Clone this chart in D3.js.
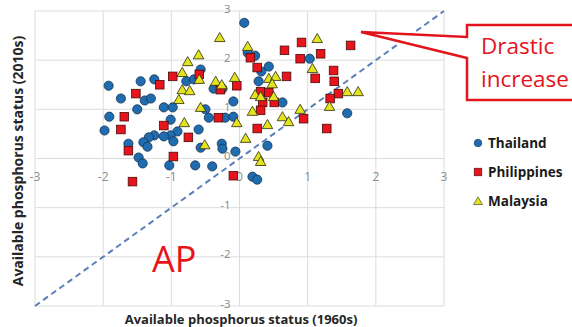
<!DOCTYPE html>
<html>
<head>
<meta charset="utf-8">
<script src="https://cdn.jsdelivr.net/npm/d3@7"></script>
<style>
  body { margin: 0; background: #fff; }
  svg { display: block; }
  text { font-family: "Open Sans", sans-serif; }
</style>
</head>
<body>
<svg id="chart" width="572" height="327"></svg>
<script>
// [1960s, 2010s] available phosphorus status per site
const thailand = [
  [-1.92, 1.48], [-1.45, 1.57], [-1.25, 1.61], [-1.74, 1.22], [-1.39, 1.18],
  [-1.30, 1.22], [-1.50, 1.00], [-1.11, 1.04], [-0.98, 1.04], [-1.91, 0.85],
  [-1.98, 0.57], [-1.01, 0.79], [-0.91, 0.55], [-1.01, 0.47], [-1.11, 0.45],
  [-1.25, 0.47], [-1.33, 0.43], [-1.41, 0.33], [-1.35, 0.24], [-0.97, 0.35],
  [-0.60, 0.59], [-1.63, 0.30], [-1.48, 0.02], [-1.42, -0.10], [-1.03, -0.14],
  [-0.65, -0.14], [-0.40, -0.16], [-0.78, 1.57], [-0.67, 1.61], [-0.57, 1.81],
  [0.07, 2.76], [0.12, 2.15], [0.23, 2.09], [1.03, 2.03], [0.32, 1.77],
  [0.43, 1.87], [0.28, 1.57], [-0.38, 1.42], [-0.25, 1.42], [-0.09, 1.16],
  [0.63, 1.14], [1.58, 0.92], [-0.50, 1.00], [-0.45, 0.83], [-0.21, 0.83],
  [-0.09, 0.85], [-0.26, 0.30], [-0.25, 0.20], [0.41, 0.26], [-0.06, 0.14],
  [-0.57, 0.22], [0.19, -0.37], [0.26, -0.43]
];
const philippines = [
  [-1.52, 1.32], [-1.17, 1.50], [-0.98, 1.67], [-1.69, 0.85], [-1.74, 0.59],
  [-1.11, 0.67], [-0.75, 0.43], [-1.63, 0.16], [-0.97, 0.04], [-1.57, -0.47],
  [-0.59, 1.71], [0.16, 2.05], [0.66, 2.20], [0.91, 2.36], [0.89, 2.03],
  [1.19, 2.13], [1.63, 2.30], [0.26, 1.85], [1.38, 1.79], [1.11, 1.63],
  [1.39, 1.57], [0.69, 1.67], [-0.04, 1.48], [-0.28, 1.40], [0.31, 1.36],
  [0.43, 1.34], [0.34, 1.14], [0.51, 1.14], [1.45, 1.32], [1.33, 1.22],
  [0.31, 0.98], [-0.31, 0.83], [0.26, 0.61], [0.94, 0.81], [1.28, 0.61],
  [-0.09, -0.35]
];
const malaysia = [
  [-0.84, 1.75], [-0.76, 1.97], [-0.60, 2.11], [-0.84, 1.40], [-0.73, 1.38],
  [-0.89, 1.20], [-0.81, 0.73], [-0.51, 0.28], [-0.29, 2.46], [0.12, 2.28],
  [-0.59, 1.61], [-0.35, 1.57], [-0.26, 1.50], [-0.07, 1.65], [0.43, 1.63],
  [0.53, 1.67], [0.48, 1.52], [0.23, 1.30], [0.31, 1.26], [0.50, 1.26],
  [1.14, 2.44], [1.07, 1.83], [1.58, 1.36], [1.74, 1.36], [1.32, 1.06],
  [0.89, 1.00], [0.19, 0.96], [0.63, 0.85], [0.72, 0.75], [-0.57, 1.04],
  [-0.04, 0.73], [0.41, 0.69], [0.09, 0.41], [0.28, 0.04], [0.31, -0.06]
];
const ticks = [-3, -2, -1, 0, 1, 2, 3];
const seriesNames = ["Thailand", "Philippines", "Malaysia"];

const svg = d3.select("#chart");
const x = d3.scaleLinear().domain([-3, 3]).range([35, 444]);
const y = d3.scaleLinear().domain([-3, 3]).range([306, 11]);

// grid
const grid = svg.append("g").attr("stroke", "#dcdcdc").attr("stroke-width", 1);
grid.selectAll(".gx").data(ticks).join("line")
  .attr("x1", d => x(d)).attr("x2", d => x(d))
  .attr("y1", y(3)).attr("y2", y(-3));
grid.selectAll(".gy").data(ticks).join("line")
  .attr("x1", x(-3)).attr("x2", x(3))
  .attr("y1", d => y(d)).attr("y2", d => y(d));

// tick labels, axes crossing at zero
svg.append("g").selectAll("text").data(ticks).join("text")
  .attr("x", d => x(d)).attr("y", y(0) + 22)
  .attr("text-anchor", "middle")
  .attr("font-family", "Lato").attr("font-size", 12).attr("fill", "#8a8a8a")
  .text(d => d);
svg.append("g").selectAll("text").data(ticks).join("text")
  .attr("x", x(0) - 9).attr("y", d => y(d) + 1.5)
  .attr("text-anchor", "end")
  .attr("font-family", "Lato").attr("font-size", 11.5).attr("fill", "#8a8a8a")
  .text(d => d);

// 1:1 line
svg.append("line")
  .attr("x1", x(-3)).attr("y1", y(-3))
  .attr("x2", x(3)).attr("y2", y(3))
  .attr("stroke", "#5b80b8").attr("stroke-width", 2)
  .attr("stroke-dasharray", "6,4");

const tri = d3.symbol().type(d3.symbolTriangle).size(48);

svg.append("g").selectAll("circle").data(thailand).join("circle")
  .attr("cx", d => x(d[0])).attr("cy", d => y(d[1])).attr("r", 4.6)
  .attr("fill", "#1f6db0").attr("stroke", "#17324f").attr("stroke-width", 0.8);

svg.append("g").selectAll("rect").data(philippines).join("rect")
  .attr("x", d => x(d[0]) - 4.3).attr("y", d => y(d[1]) - 4.3)
  .attr("width", 8.6).attr("height", 8.6)
  .attr("fill", "#e8141c").attr("stroke", "#4a0b0b").attr("stroke-width", 0.8);

svg.append("g").selectAll("path").data(malaysia).join("path")
  .attr("d", tri)
  .attr("transform", d => `translate(${x(d[0])},${y(d[1]) + 1})`)
  .attr("fill", "#e4e41e").attr("stroke", "#2b2b10").attr("stroke-width", 0.8);

// axis titles
svg.append("text")
  .attr("x", 241).attr("y", 324)
  .attr("text-anchor", "middle")
  .attr("font-family", "Lato")
  .attr("font-size", 13).attr("font-weight", "bold").attr("fill", "#262626")
  .text("Available phosphorus status (1960s)");
svg.append("text")
  .attr("transform", "translate(23,161) rotate(-90)")
  .attr("text-anchor", "middle")
  .attr("font-family", "Lato")
  .attr("font-size", 14).attr("font-weight", "bold").attr("fill", "#262626")
  .text("Available phosphorus status (2010s)");

// legend
const lg = svg.append("g").selectAll("g").data(seriesNames).join("g")
  .attr("transform", (d, i) => `translate(478,${143 + i * 29})`);
lg.filter((d, i) => i === 0).append("circle").attr("r", 3.8)
  .attr("fill", "#1f6db0").attr("stroke", "#17324f").attr("stroke-width", 0.6);
lg.filter((d, i) => i === 1).append("rect")
  .attr("x", -3.8).attr("y", -3.8).attr("width", 7.6).attr("height", 7.6)
  .attr("fill", "#e8141c").attr("stroke", "#4a0b0b").attr("stroke-width", 0.6);
lg.filter((d, i) => i === 2).append("path")
  .attr("d", d3.symbol().type(d3.symbolTriangle).size(34))
  .attr("transform", "translate(0,1)")
  .attr("fill", "#e4e41e").attr("stroke", "#2b2b10").attr("stroke-width", 0.6);
lg.append("text").attr("x", 10).attr("y", 4.5)
  .attr("font-family", "Lato")
  .attr("font-size", 13.5).attr("font-weight", "bold").attr("fill", "#1a1a1a")
  .text(d => d);

// callout
svg.append("path")
  .attr("d", "M467,25 L580,25 L580,100 L467,100 L467,58 L361,32 L467,37 Z")
  .attr("fill", "#fff").attr("stroke", "#e3141c").attr("stroke-width", 2.5)
  .attr("stroke-linejoin", "miter");
svg.append("text").attr("x", 481).attr("y", 54)
  .attr("font-size", 22.5).attr("fill", "#e3141c").text("Drastic");
svg.append("text").attr("x", 481).attr("y", 87)
  .attr("font-size", 22.5).attr("fill", "#e3141c").text("increase");

svg.append("text").attr("x", 152).attr("y", 272)
  .attr("font-size", 36).attr("fill", "#e8141c").text("AP");
</script>
</body>
</html>
